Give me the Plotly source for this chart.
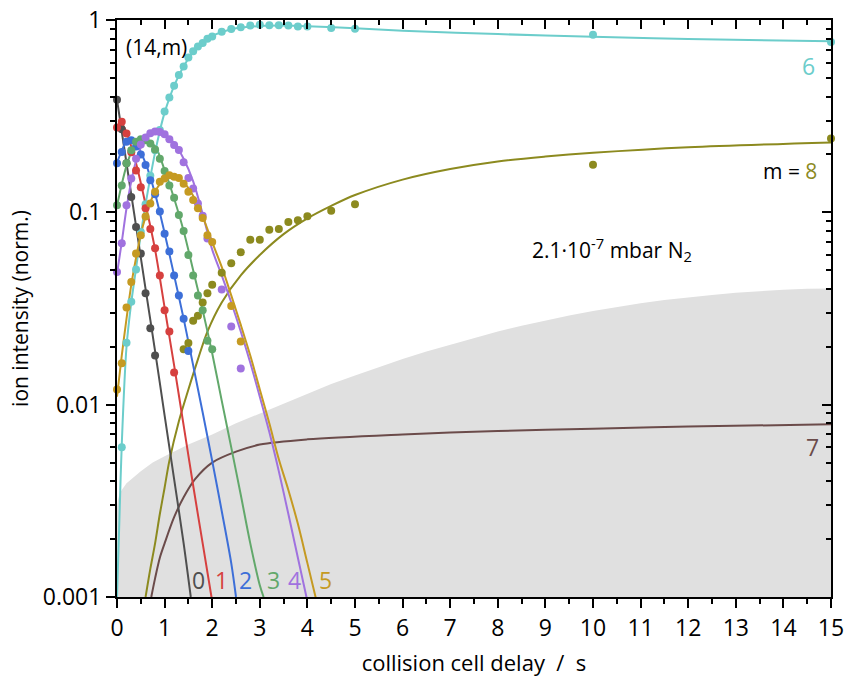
import plotly.graph_objects as go

# ---------------- data ----------------
# measured points (collision cell delay / s, normalised ion intensity)
t_m0 = [0, 0.1, 0.2, 0.3, 0.4, 0.5, 0.6, 0.7, 0.8]
y_m0 = [0.385, 0.27, 0.18, 0.12, 0.084, 0.061, 0.038, 0.025, 0.018]

t_m1 = [0, 0.1, 0.2, 0.3, 0.4, 0.5, 0.6, 0.7, 0.8, 0.9, 1.0, 1.1, 1.2]
y_m1 = [0.276, 0.296, 0.257, 0.205, 0.165, 0.135, 0.105, 0.082, 0.065, 0.047, 0.031, 0.024, 0.0147]

t_m2 = [0, 0.1, 0.2, 0.3, 0.4, 0.5, 0.6, 0.7, 0.8, 0.9, 1.0, 1.1, 1.2, 1.3, 1.4, 1.5]
y_m2 = [0.18, 0.206, 0.233, 0.237, 0.22, 0.2, 0.176, 0.147, 0.124, 0.101, 0.0774, 0.0626, 0.047, 0.0369, 0.028, 0.019]

t_m3 = [0, 0.1, 0.2, 0.3, 0.4, 0.5, 0.6, 0.7, 0.8, 0.9, 1.0, 1.1, 1.2, 1.3, 1.4, 1.5, 1.6, 1.7, 1.8, 1.9, 2.0]
y_m3 = [0.109, 0.138, 0.18, 0.21, 0.233, 0.24, 0.237, 0.228, 0.212, 0.19, 0.164, 0.138, 0.119, 0.097,
        0.08, 0.06, 0.047, 0.037, 0.031, 0.0215, 0.0194]

t_m4 = [0, 0.1, 0.2, 0.3, 0.4, 0.5, 0.6, 0.7, 0.8, 0.9, 1.0, 1.1, 1.2, 1.3, 1.4, 1.5, 1.6, 1.7, 1.8, 1.9,
        2.2, 2.4, 2.6]
y_m4 = [0.049, 0.069, 0.109, 0.15, 0.19, 0.225, 0.245, 0.258, 0.263, 0.262, 0.255, 0.24, 0.224, 0.211,
        0.182, 0.151, 0.133, 0.111, 0.096, 0.073, 0.0397, 0.0255, 0.0154]

t_m5 = [0, 0.1, 0.2, 0.3, 0.4, 0.5, 0.6, 0.7, 0.8, 0.9, 1.0, 1.1, 1.2, 1.3, 1.4, 1.5, 1.6, 1.7, 1.8, 1.9,
        2.0, 2.4, 2.6]
y_m5 = [0.012, 0.0164, 0.032, 0.0434, 0.061, 0.076, 0.095, 0.111, 0.128, 0.144, 0.15, 0.156, 0.153, 0.151,
        0.141, 0.128, 0.116, 0.105, 0.0934, 0.0759, 0.0701, 0.0326, 0.0213]

t_m6 = [0.1, 0.2, 0.3, 0.4, 0.5, 0.6, 0.7, 0.8, 0.9, 1.0, 1.1, 1.2, 1.3, 1.4, 1.5, 1.6, 1.7, 1.8, 1.9, 2.0,
        2.2, 2.4, 2.6, 2.8, 3.0, 3.2, 3.4, 3.6, 3.8, 4.0, 4.5, 5, 10, 15]
y_m6 = [0.006, 0.021, 0.0343, 0.0504, 0.079, 0.11, 0.155, 0.21, 0.268, 0.334, 0.395, 0.455, 0.518, 0.573,
        0.638, 0.687, 0.729, 0.76, 0.80, 0.82, 0.87, 0.898, 0.916, 0.935, 0.945, 0.94, 0.94, 0.935, 0.925,
        0.925, 0.908, 0.90, 0.838, 0.768]

t_m8 = [1.4, 1.5, 1.6, 1.7, 1.8, 1.9, 2.0, 2.2, 2.4, 2.6, 2.8, 3.0, 3.2, 3.4, 3.6, 3.8, 4.0, 4.5, 5, 10, 15]
y_m8 = [0.0194, 0.0209, 0.0273, 0.029, 0.034, 0.038, 0.042, 0.0485, 0.0544, 0.062, 0.072, 0.072, 0.0813,
        0.082, 0.089, 0.091, 0.0953, 0.102, 0.11, 0.177, 0.242]

# fitted curves
fit_t0 = [0, 0.2, 0.4, 0.6, 0.8, 1.0, 1.2, 1.4, 1.55]
fit_y0 = [0.385, 0.18, 0.085, 0.040, 0.019, 0.0088, 0.0041, 0.0019, 0.001]

fit_t1 = [0, 0.05, 0.1, 0.2, 0.4, 0.6, 0.8, 1.0, 1.2, 1.4, 1.6, 1.8, 2.0]
fit_y1 = [0.27, 0.29, 0.29, 0.26, 0.18, 0.11, 0.064, 0.032, 0.016, 0.0078, 0.0038, 0.0019, 0.00095]

fit_t2 = [0, 0.1, 0.2, 0.3, 0.4, 0.6, 0.8, 1.0, 1.2, 1.4, 1.6, 1.8, 2.0, 2.2, 2.4, 2.5]
fit_y2 = [0.18, 0.21, 0.232, 0.237, 0.228, 0.18, 0.125, 0.078, 0.047, 0.028, 0.016, 0.0091, 0.0051,
          0.0028, 0.0015, 0.001]

fit_t3 = [0, 0.1, 0.2, 0.3, 0.4, 0.5, 0.6, 0.8, 1.0, 1.2, 1.4, 1.6, 1.8, 2.0, 2.2, 2.4, 2.6, 2.8, 3.0, 3.08]
fit_y3 = [0.108, 0.14, 0.175, 0.205, 0.225, 0.236, 0.238, 0.22, 0.166, 0.118, 0.08, 0.05, 0.031, 0.0185,
          0.0105, 0.006, 0.0034, 0.0019, 0.00115, 0.001]

fit_t4 = [0, 0.1, 0.2, 0.3, 0.4, 0.5, 0.6, 0.7, 0.8, 0.9, 1.0, 1.2, 1.4, 1.6, 1.8, 2.0, 2.2, 2.4, 2.6, 2.8,
          3.0, 3.2, 3.4, 3.6, 3.8, 4.0]
fit_y4 = [0.048, 0.07, 0.105, 0.145, 0.185, 0.217, 0.24, 0.255, 0.262, 0.262, 0.256, 0.23, 0.19, 0.145,
          0.098, 0.064, 0.047, 0.034, 0.024, 0.0165, 0.011, 0.0072, 0.0045, 0.0027, 0.0016, 0.00095]

fit_t5 = [0, 0.1, 0.2, 0.3, 0.4, 0.5, 0.6, 0.7, 0.8, 0.9, 1.0, 1.1, 1.2, 1.4, 1.6, 1.8, 2.0, 2.2, 2.4, 2.6,
          2.8, 3.0, 3.2, 3.4, 3.6, 3.8, 4.0, 4.18]
fit_y5 = [0.011, 0.018, 0.028, 0.042, 0.058, 0.077, 0.095, 0.113, 0.128, 0.14, 0.148, 0.152, 0.152, 0.143,
          0.122, 0.095, 0.07, 0.052, 0.037, 0.026, 0.018, 0.012, 0.008, 0.0052, 0.0036, 0.0024, 0.0015,
          0.00098]

fit_t6 = [0, 0.05, 0.1, 0.2, 0.3, 0.4, 0.5, 0.6, 0.7, 0.8, 0.9, 1.0, 1.2, 1.4, 1.6, 1.8, 2.0, 2.5, 3.0,
          3.5, 4.0, 5, 6, 8, 10, 12, 15]
fit_y6 = [0.001, 0.0025, 0.0062, 0.02, 0.034, 0.051, 0.077, 0.11, 0.152, 0.205, 0.265, 0.33, 0.455, 0.575,
          0.68, 0.765, 0.825, 0.905, 0.93, 0.935, 0.928, 0.905, 0.88, 0.845, 0.818, 0.797, 0.775]

fit_t7 = [0.72, 0.8, 0.9, 1.0, 1.2, 1.4, 1.64, 2.0, 2.5, 3.0, 4, 6, 8, 10, 12, 15]
fit_y7 = [0.001, 0.00125, 0.0016, 0.0019, 0.0026, 0.0033, 0.0041, 0.005, 0.0057, 0.0062, 0.0066, 0.0070,
          0.0073, 0.0075, 0.0077, 0.0079]

fit_t8 = [0.6, 0.7, 0.8, 0.9, 1.0, 1.1, 1.3, 1.5, 1.7, 1.9, 2.2, 2.6, 3.0, 3.5, 4.0, 4.5, 5, 6, 7, 8, 9,
          10, 12, 15]
fit_y8 = [0.001, 0.0014, 0.0019, 0.0027, 0.0037, 0.0051, 0.0082, 0.012, 0.0172, 0.024, 0.034, 0.047, 0.06,
          0.077, 0.093, 0.108, 0.123, 0.148, 0.168, 0.184, 0.195, 0.204, 0.218, 0.231]

# grey shaded region (upper boundary)
shade_t = [0, 0.02, 0.05, 0.1, 0.2, 0.35, 0.5, 0.75, 1, 1.5, 2, 2.5, 3, 3.5, 4, 4.5, 5, 5.5, 6, 6.5, 7, 7.5,
           8, 8.5, 9, 9.5, 10, 10.5, 11, 11.5, 12, 12.5, 13, 13.5, 14, 14.5, 15]
shade_y = [0.0029, 0.0032, 0.0034, 0.0036, 0.0039, 0.0042, 0.0045, 0.0050, 0.0054, 0.0062, 0.0070, 0.0080,
           0.0090, 0.0102, 0.0114, 0.0128, 0.0142, 0.0157, 0.0173, 0.0189, 0.0205, 0.0222, 0.0240, 0.0257,
           0.0274, 0.0291, 0.0307, 0.0322, 0.0337, 0.0350, 0.0362, 0.0372, 0.0382, 0.0390, 0.0396, 0.0400,
           0.0402]

Y_MIN, Y_MAX = 0.001, 1.0
X_MIN, X_MAX = 0, 15
y_tickvals = [0.001, 0.01, 0.1, 1]
y_ticktext = ["0.001", "0.01", "0.1", "1"]

colors = {
    0: "#4f4f4f", 1: "#d6403f", 2: "#3d6fd8", 3: "#62a86b", 4: "#a072df",
    5: "#c59a22", 6: "#6ccdcb", 7: "#6b4b4a", 8: "#8c8a1f",
}

# ---------------- figure ----------------
fig = go.Figure()

fig.add_trace(go.Scatter(
    x=shade_t + shade_t[::-1], y=shade_y + [Y_MIN] * len(shade_t),
    fill="toself", fillcolor="#e0e0e0", line=dict(width=0),
    mode="lines", hoverinfo="skip", showlegend=False))

fits = [(8, fit_t8, fit_y8), (7, fit_t7, fit_y7), (6, fit_t6, fit_y6), (0, fit_t0, fit_y0),
        (1, fit_t1, fit_y1), (2, fit_t2, fit_y2), (3, fit_t3, fit_y3), (4, fit_t4, fit_y4),
        (5, fit_t5, fit_y5)]
for m, tx, ty in fits:
    fig.add_trace(go.Scatter(x=tx, y=ty, mode="lines",
                             line=dict(color=colors[m], width=2, shape="spline", smoothing=0.9),
                             showlegend=False))

pts = [(8, t_m8, y_m8), (6, t_m6, y_m6), (0, t_m0, y_m0), (1, t_m1, y_m1), (2, t_m2, y_m2),
       (3, t_m3, y_m3), (4, t_m4, y_m4), (5, t_m5, y_m5)]
for m, tx, ty in pts:
    fig.add_trace(go.Scatter(x=tx, y=ty, mode="markers",
                             marker=dict(color=colors[m], size=8),
                             cliponaxis=False, showlegend=False))

# dummy trace to activate mirrored axes
fig.add_trace(go.Scatter(x=[None], y=[None], xaxis="x2", yaxis="y2", showlegend=False, hoverinfo="skip"))

FONT = "Open Sans"
minor_y = [k * 10 ** e for e in (-3, -2, -1) for k in range(2, 10)]

axis_common = dict(showgrid=False, zeroline=False, showline=True, linecolor="black", linewidth=2,
                   tickcolor="black", tickwidth=2, automargin=False)

NB = "\u00a0"
fig.update_layout(
    width=844, height=685, autosize=False,
    margin=dict(l=117, r=13, t=20, b=88),
    paper_bgcolor="white", plot_bgcolor="white",
    font=dict(family=FONT, size=20, color="black"),
    xaxis=dict(range=[X_MIN, X_MAX], dtick=1, tick0=0, ticks="outside", ticklen=9,
               ticklabeloverflow="allow",
               minor=dict(dtick=0.5, ticks="outside", ticklen=5, tickwidth=2, tickcolor="black"),
               title=dict(text="collision cell delay" + NB * 2 + "/" + NB * 2 + "s", standoff=14,
                          font=dict(size=22)),
               tickfont=dict(size=23), **axis_common),
    yaxis=dict(type="log", range=[-3, 0], tickmode="array", tickvals=y_tickvals, ticktext=y_ticktext,
               ticks="outside", ticklen=9, ticklabeloverflow="allow",
               minor=dict(tickmode="array", tickvals=minor_y, ticks="outside", ticklen=5, tickwidth=2,
                          tickcolor="black"),
               title=dict(text="ion intensity (norm.)", standoff=8, font=dict(size=21)),
               tickfont=dict(size=23), **axis_common),
    xaxis2=dict(range=[X_MIN, X_MAX], dtick=1, tick0=0, overlaying="x", side="top", anchor="y2",
                ticks="inside", ticklen=9, showticklabels=False,
                minor=dict(dtick=0.5, ticks="inside", ticklen=5, tickwidth=2, tickcolor="black"),
                **axis_common),
    yaxis2=dict(type="log", range=[-3, 0], overlaying="y", side="right", anchor="x2",
                tickmode="array", tickvals=y_tickvals, ticks="inside", ticklen=9, showticklabels=False,
                minor=dict(tickmode="array", tickvals=minor_y, ticks="inside", ticklen=5, tickwidth=2,
                           tickcolor="black"),
                **axis_common),
)

def px(xp, yp):
    return (xp - 117) / 714, (597 - yp) / 577

annots = [
    ("(14,m)", 156, 47, "black", "center", 21),
    ("6", 808, 66, colors[6], "center", 23),
    ("m" + NB + "=" + NB + "<span style='color:%s'>8</span>" % colors[8], 819, 171, "black", "right", 21),
    ("7", 812, 447, colors[7], "center", 23),
    ("2.1·10<sup>-7</sup> mbar N<sub>2</sub>", 612, 250, "black", "center", 21),
    ("0", 198, 580, colors[0], "center", 23),
    ("1", 221, 580, colors[1], "center", 23),
    ("2", 245, 580, colors[2], "center", 23),
    ("3", 273, 580, colors[3], "center", 23),
    ("4", 294, 580, colors[4], "center", 23),
    ("5", 325, 580, colors[5], "center", 23),
]
for text, xp, yp, col, anchor, fs in annots:
    ax, ay = px(xp, yp)
    fig.add_annotation(text=text, x=ax, y=ay, xref="paper", yref="paper", showarrow=False,
                       xanchor=anchor, yanchor="middle", font=dict(size=fs, color=col, family=FONT))

fig.write_html("out.html")
